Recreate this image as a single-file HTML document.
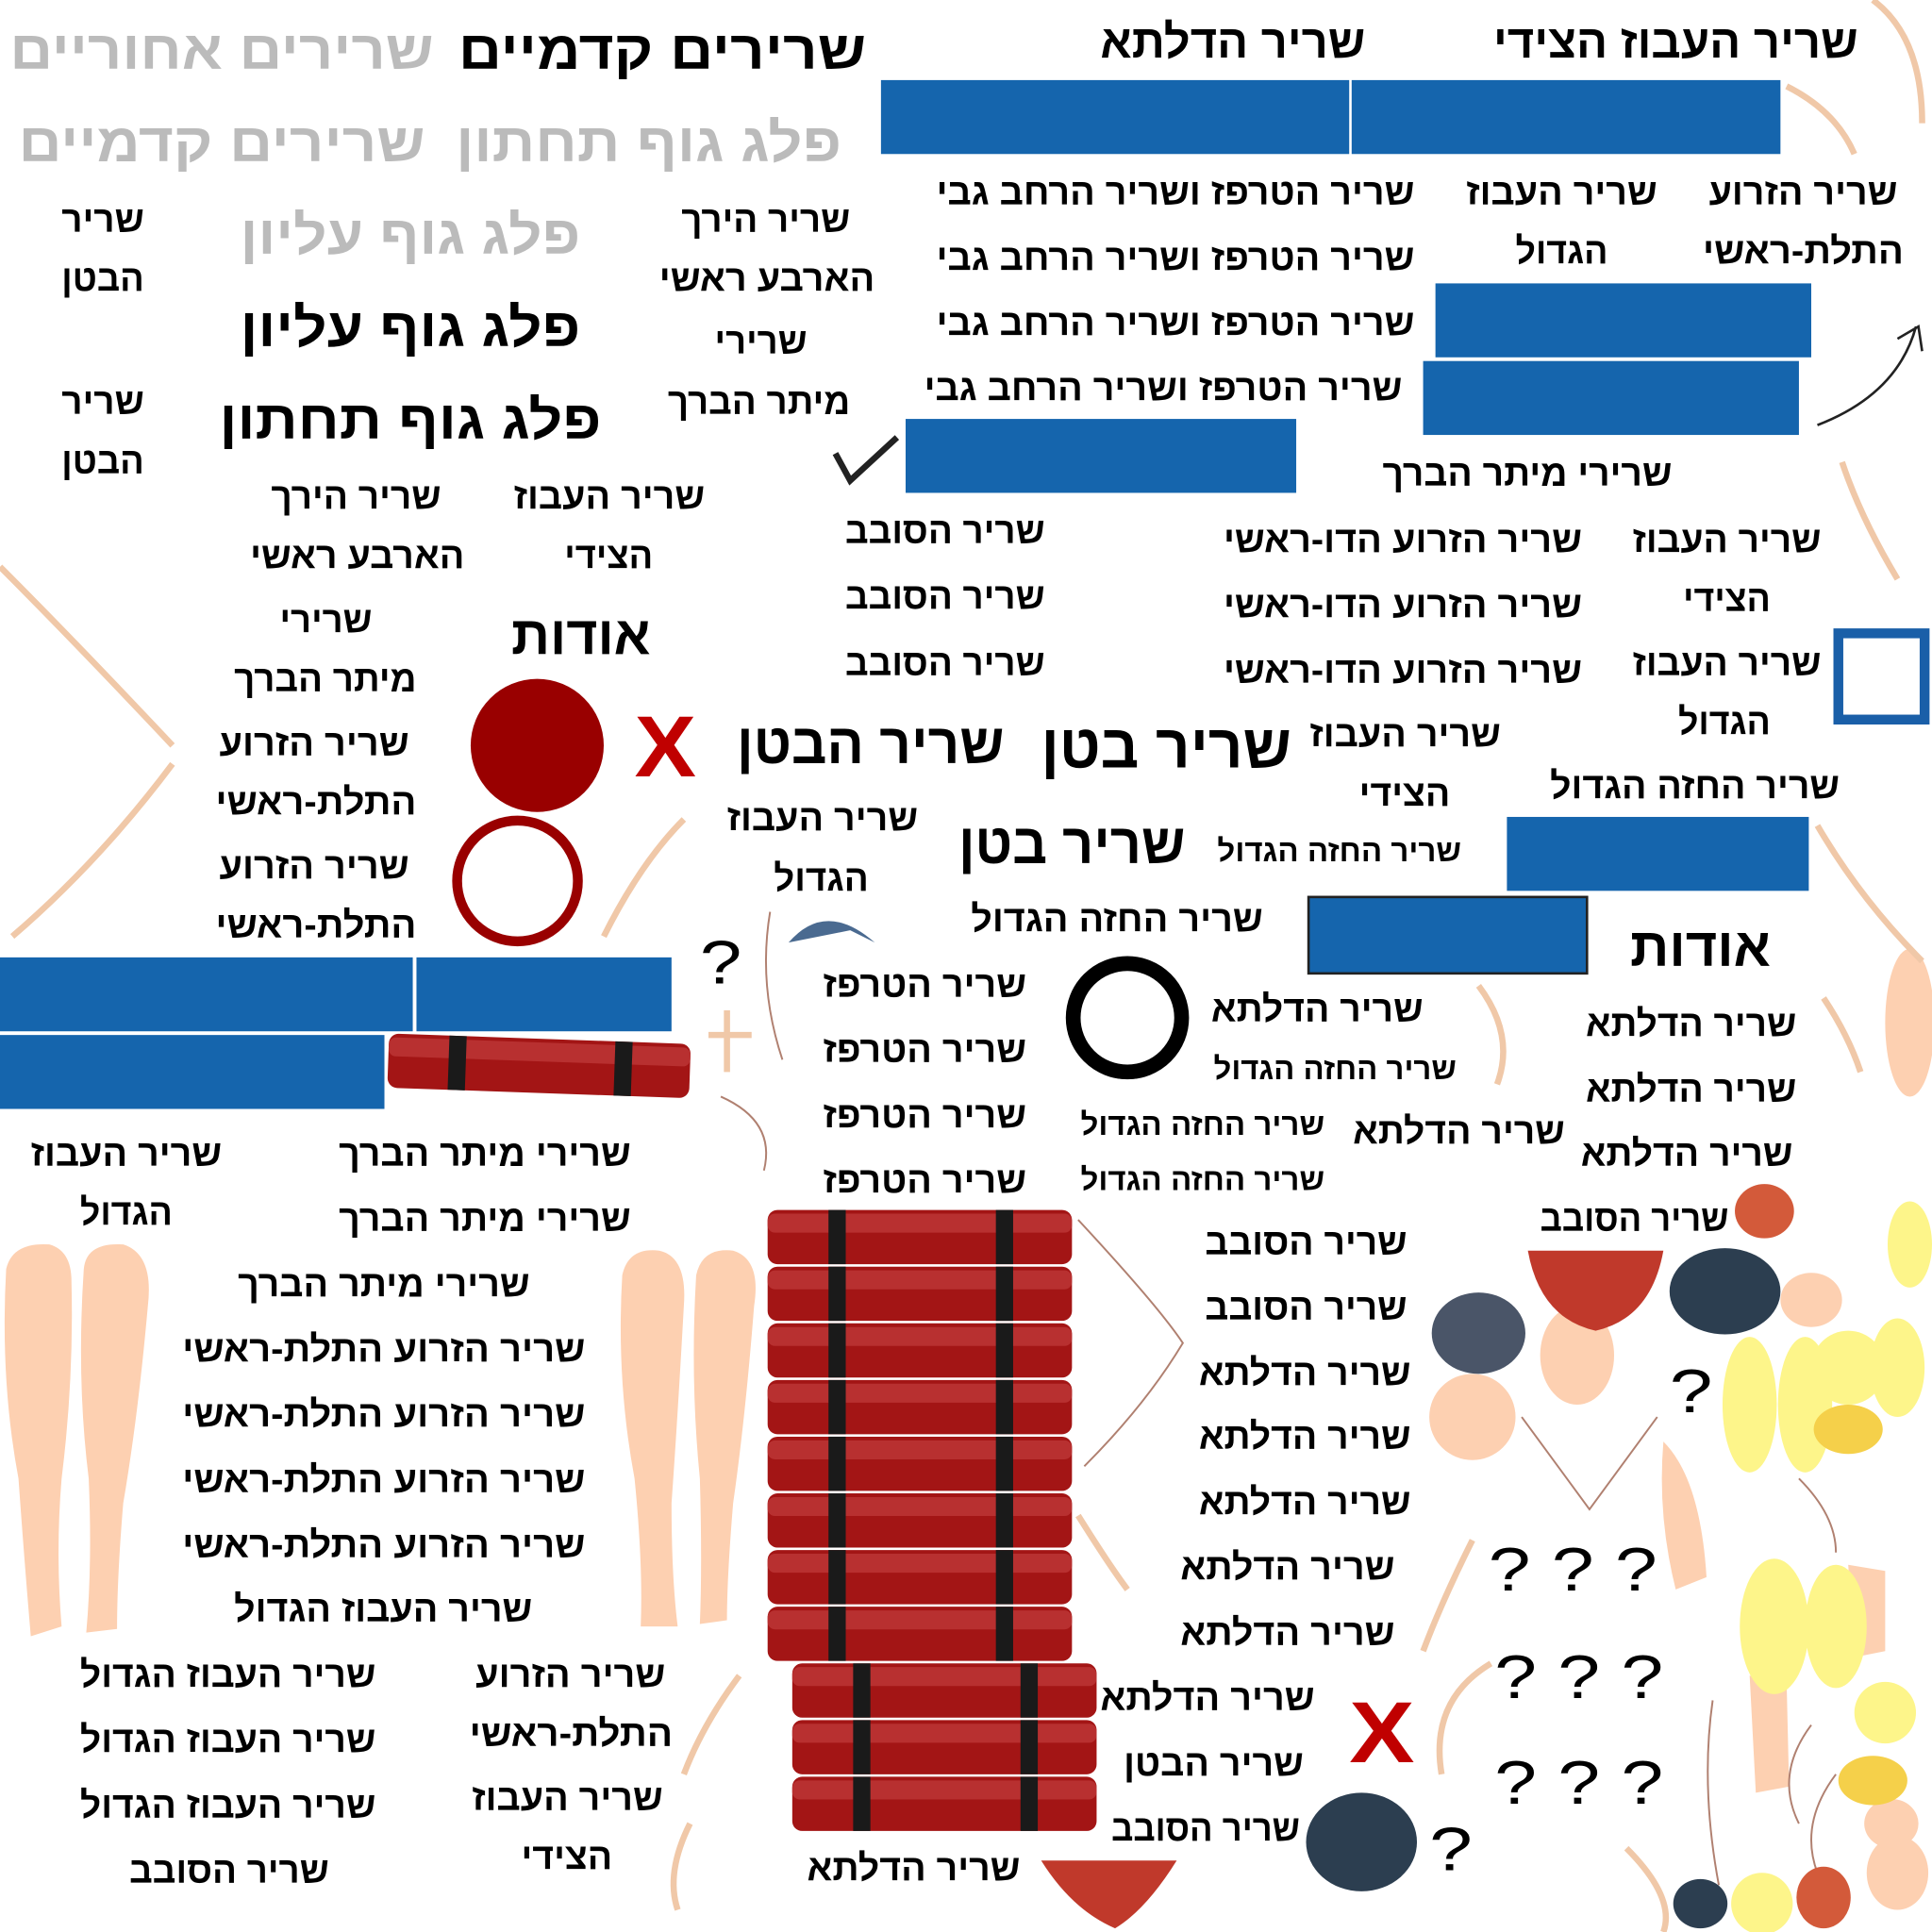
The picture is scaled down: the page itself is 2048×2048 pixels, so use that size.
<!DOCTYPE html>
<html><head><meta charset="utf-8"><style>
html,body{margin:0;padding:0;background:#fff;width:2048px;height:2048px;overflow:hidden}
svg{display:block}
text{font-family:"Liberation Sans","DejaVu Sans",sans-serif;font-weight:bold}
</style></head><body>
<svg id="s" xmlns="http://www.w3.org/2000/svg" width="2048" height="2048" viewBox="0 0 1568 1568">
<g fill="#fdd0b1">
<path d="M5,1030 Q10,1008 40,1010 Q58,1015 58,1040 Q60,1120 50,1200 Q45,1260 50,1320 L25,1328 Q20,1270 15,1200 Q0,1120 5,1030Z"/>
<path d="M68,1030 Q70,1008 100,1010 Q125,1018 120,1060 Q112,1150 100,1220 Q95,1280 95,1322 L70,1325 Q75,1270 72,1200 Q62,1120 68,1030Z"/>
<path d="M505,1035 Q510,1012 535,1015 Q558,1020 555,1060 Q550,1150 545,1220 Q545,1280 550,1320 L520,1320 Q522,1270 515,1200 Q500,1120 505,1035Z"/>
<path d="M565,1035 Q570,1012 595,1015 Q618,1022 612,1060 Q605,1150 595,1220 Q590,1280 590,1315 L568,1318 Q570,1270 568,1200 Q560,1120 565,1035Z"/>
<ellipse cx="1280" cy="1100" rx="30" ry="40"/>
<ellipse cx="1195" cy="1150" rx="35" ry="35"/>
<ellipse cx="1470" cy="1055" rx="25" ry="22"/>
<path d="M1350,1170 Q1380,1200 1385,1280 L1360,1290 Q1345,1230 1350,1170Z"/>
<path d="M1420,1360 L1450,1365 L1452,1450 L1425,1455Z"/>
<path d="M1500,1270 L1530,1275 L1530,1340 L1505,1345Z"/>
<ellipse cx="1550" cy="830" rx="20" ry="60"/>
<ellipse cx="1540" cy="1520" rx="25" ry="30"/>
<ellipse cx="1535" cy="1480" rx="22" ry="20"/>
</g>
<g fill="none" stroke="#f0c8a8" stroke-width="5">
<path d="M0,460 Q60,520 140,605"/><path d="M140,620 Q80,700 10,760"/>
<path d="M555,665 Q520,700 490,760"/><path d="M1495,375 Q1510,420 1540,470"/>
<path d="M1475,670 Q1510,730 1560,780"/><path d="M1480,810 Q1500,840 1510,870"/>
<path d="M1520,0 Q1560,30 1560,100"/><path d="M1450,70 Q1490,90 1505,125"/>
<path d="M1200,800 Q1230,840 1215,880"/><path d="M1195,1250 Q1170,1300 1155,1340"/>
<path d="M1210,1350 Q1160,1380 1170,1440"/><path d="M1320,1500 Q1360,1540 1350,1568"/>
<path d="M600,1360 Q570,1400 555,1440"/><path d="M560,1480 Q540,1520 550,1550"/>
<path d="M875,1230 Q900,1270 915,1290"/><path d="M575,840 L610,840"/><path d="M590,820 L590,870"/>
</g>
<g fill="none" stroke="#b08070" stroke-width="1.5">
<path d="M625,740 Q615,800 635,860"/><path d="M875,990 Q940,1060 960,1090 Q930,1140 880,1190"/>
<path d="M1235,1150 L1290,1225 L1345,1150"/><path d="M1390,1380 Q1380,1450 1395,1530"/>
<path d="M1470,1400 Q1440,1440 1460,1480"/><path d="M1490,1440 Q1460,1480 1475,1520"/>
<path d="M585,890 Q630,910 620,950"/><path d="M1460,1200 Q1490,1230 1490,1260"/>
</g>
<path d="M1475,345 Q1540,320 1555,265 M1540,275 L1557,265 L1560,285" fill="none" stroke="#222" stroke-width="2"/>
<path d="M678,368 L690,390 L728,355" fill="none" stroke="#222" stroke-width="5"/>
<path d="M640,765 Q670,730 710,765 L690,755 Z" fill="#4a6a90"/>
<g>
<ellipse cx="1400" cy="1048" rx="45" ry="35" fill="#2c3e50"/>
<ellipse cx="1200" cy="1082" rx="38" ry="33" fill="#4a5568"/>
<ellipse cx="1105" cy="1495" rx="45" ry="40" fill="#2c3e50"/>
<ellipse cx="1380" cy="1545" rx="22" ry="20" fill="#2c3e50"/>
<path d="M1240,1015 L1350,1015 Q1340,1070 1295,1080 Q1250,1070 1240,1015Z" fill="#c0392b"/>
<path d="M845,1510 L955,1510 Q930,1550 905,1565 Q870,1550 845,1510Z" fill="#c0392b"/>
<ellipse cx="1432" cy="983" rx="24" ry="22" fill="#d35a3a"/>
<ellipse cx="1480" cy="1540" rx="22" ry="25" fill="#d35a3a"/>
</g>
<g fill="#fdf58a">
<ellipse cx="1420" cy="1140" rx="22" ry="55"/><ellipse cx="1465" cy="1140" rx="22" ry="55"/>
<ellipse cx="1500" cy="1110" rx="30" ry="30"/><ellipse cx="1550" cy="1010" rx="18" ry="35"/>
<ellipse cx="1540" cy="1110" rx="22" ry="40"/><ellipse cx="1440" cy="1320" rx="28" ry="55"/>
<ellipse cx="1490" cy="1320" rx="25" ry="50"/><ellipse cx="1530" cy="1390" rx="25" ry="25"/>
<ellipse cx="1520" cy="1445" rx="28" ry="20" fill="#f5d04a"/><ellipse cx="1500" cy="1160" rx="28" ry="20" fill="#f5d04a"/>
<ellipse cx="1430" cy="1545" rx="25" ry="25"/>
</g>
<g id="rects"></g><g id="rolls"></g><g id="texts"></g>
<circle cx="436" cy="605" r="54" fill="#990000"/>
<circle cx="420" cy="715" r="49" fill="none" stroke="#990000" stroke-width="8"/>
<circle cx="915" cy="826" r="44" fill="none" stroke="#000" stroke-width="12"/>
<rect x="1492" y="514" width="70" height="70" fill="none" stroke="#1a5fa8" stroke-width="8"/>
</svg>
<script>
const NS="http://www.w3.org/2000/svg";
const blueRects=[[715,65,380,60],[1097,65,348,60],[1165,230,305,60],[1155,293,305,60],[735,340,317,60],[1223,663,245,60],[1062,728,226,62],[0,777,335,60],[338,777,207,60],[0,840,312,60]];
const R=document.getElementById('rects');
blueRects.forEach(b=>{const r=document.createElementNS(NS,'rect');
r.setAttribute('x',b[0]);r.setAttribute('y',b[1]);r.setAttribute('width',b[2]);r.setAttribute('height',b[3]);
r.setAttribute('fill','#1565ad');if(b[1]===728){r.setAttribute('stroke','#222');r.setAttribute('stroke-width','2');}


R.appendChild(r);});
const rolls=[[623,982,247],[623,1028,247],[623,1074,247],[623,1120,247],[623,1166,247],[623,1212,247],[623,1258,247],[623,1304,247],[643,1350,247],[643,1396,247],[643,1442,247]];
const RL=document.getElementById('rolls');
function roll(x,y,w,h,rot){const g=document.createElementNS(NS,'g');


if(rot)g.setAttribute('transform',rot);
g.innerHTML=`<rect x="${x}" y="${y}" width="${w}" height="${h}" rx="8" fill="#a31515"/><rect x="${x}" y="${y+3}" width="${w}" height="${h*0.35}" rx="6" fill="#b83030"/><rect x="${x+w*0.2}" y="${y}" width="14" height="${h}" fill="#1a1a1a"/><rect x="${x+w*0.75}" y="${y}" width="14" height="${h}" fill="#1a1a1a"/>`;
RL.appendChild(g);}
rolls.forEach(r=>roll(r[0],r[1],r[2],44));
roll(315,843,245,44,'rotate(2 437 865)');
const texts=[
[8,352,40,44,"שרירים אחוריים","#bbb"],[372,703,40,44,"שרירים קדמיים","#000"],
[893,1108,33,38,"שריר הדלתא","#000"],[1212,1508,33,38,"שריר העבוז הצידי","#000"],
[370,683,115,44,"פלג גוף תחתון","#bbb"],[15,345,115,44,"שרירים קדמיים","#bbb"],
[50,117,177,30,"שריר"],[50,117,225,30,"הבטן"],[195,471,190,44,"פלג גוף עליון","#bbb"],
[553,690,177,30,"שריר הירך"],[535,710,225,30,"הארבע ראשי"],[580,655,276,30,"שרירי"],[542,690,325,30,"מיתר הברך"],
[195,471,265,44,"פלג גוף עליון"],[50,117,325,30,"שריר"],[50,117,373,30,"הבטן"],[178,488,340,44,"פלג גוף תחתון"],
[760,1148,155,30,"שריר הטרפז ושריר הרחב גבי"],[760,1148,208,30,"שריר הטרפז ושריר הרחב גבי"],[760,1148,261,30,"שריר הטרפז ושריר הרחב גבי"],[750,1138,314,30,"שריר הטרפז ושריר הרחב גבי"],
[1190,1345,155,30,"שריר העבוז"],[1230,1305,203,30,"הגדול"],[1387,1540,155,30,"שריר הזרוע"],[1382,1545,203,30,"התלת-ראשי"],
[1122,1357,383,30,"שרירי מיתר הברך"],[417,572,402,30,"שריר העבוז"],[458,530,450,30,"הצידי"],
[220,358,402,30,"שריר הירך"],[203,377,450,30,"הארבע ראשי"],[227,302,502,30,"שרירי"],[190,338,550,30,"מיתר הברך"],
[178,332,602,30,"שריר הזרוע"],[175,338,650,30,"התלת-ראשי"],[178,332,702,30,"שריר הזרוע"],[175,338,750,30,"התלת-ראשי"],
[415,528,515,44,"אודות"],[515,565,605,70,"X","#c00000"],
[686,848,430,30,"שריר הסובב"],[686,848,483,30,"שריר הסובב"],[686,848,537,30,"שריר הסובב"],
[993,1284,437,30,"שריר הזרוע הדו-ראשי"],[993,1284,490,30,"שריר הזרוע הדו-ראשי"],[993,1284,543,30,"שריר הזרוע הדו-ראשי"],
[1325,1478,437,30,"שריר העבוז"],[1366,1437,485,30,"הצידי"],[1325,1478,537,30,"שריר העבוז"],[1362,1437,585,30,"הגדול"],
[598,815,603,46,"שריר הבטן"],[845,1048,605,50,"שריר בטן"],[1063,1218,595,30,"שריר העבוז"],[1103,1177,643,30,"הצידי"],
[1258,1493,637,30,"שריר החזה הגדול"],[590,745,663,30,"שריר העבוז"],[628,705,712,30,"הגדול"],
[778,962,684,46,"שריר בטן"],[988,1186,690,25,"שריר החזה הגדול"],[788,1025,745,30,"שריר החזה הגדול"],
[1323,1437,768,44,"אודות"],[568,602,780,50,"?"],
[668,833,798,30,"שריר הטרפז"],[668,833,851,30,"שריר הטרפז"],[668,833,904,30,"שריר הטרפז"],[668,833,957,30,"שריר הטרפז"],
[983,1155,818,30,"שריר הדלתא"],[985,1182,867,25,"שריר החזה הגדול"],
[1287,1458,830,30,"שריר הדלתא"],[1287,1458,883,30,"שריר הדלתא"],[1283,1455,935,30,"שריר הדלתא"],[1098,1270,917,30,"שריר הדלתא"],
[877,1075,912,25,"שריר החזה הגדול"],[877,1075,957,25,"שריר החזה הגדול"],
[25,180,935,30,"שריר העבוז"],[65,140,983,30,"הגדול"],
[275,512,935,30,"שרירי מיתר הברך"],[275,512,988,30,"שרירי מיתר הברך"],[193,430,1041,30,"שרירי מיתר הברך"],
[148,475,1094,30,"שריר הזרוע התלת-ראשי"],[148,475,1147,30,"שריר הזרוע התלת-ראשי"],[148,475,1200,30,"שריר הזרוע התלת-ראשי"],[148,475,1253,30,"שריר הזרוע התלת-ראשי"],
[190,432,1305,30,"שריר העבוז הגדול"],[65,305,1358,30,"שריר העבוז הגדול"],[65,305,1411,30,"שריר העבוז הגדול"],[65,305,1464,30,"שריר העבוז הגדול"],
[105,267,1517,30,"שריר הסובב"],[386,540,1358,30,"שריר הזרוע"],[381,546,1406,30,"התלת-ראשי"],[383,538,1458,30,"שריר העבוז"],[423,497,1506,30,"הצידי"],
[978,1142,1007,30,"שריר הסובב"],[978,1142,1060,30,"שריר הסובב"],[973,1145,1113,30,"שריר הדלתא"],[973,1145,1165,30,"שריר הדלתא"],[973,1145,1218,30,"שריר הדלתא"],
[958,1132,1271,30,"שריר הדלתא"],[958,1132,1324,30,"שריר הדלתא"],[893,1067,1377,30,"שריר הדלתא"],[912,1058,1430,30,"שריר הבטן"],[902,1055,1483,30,"שריר הסובב"],[655,828,1515,30,"שריר הדלתא"],
[1095,1148,1405,70,"X","#c00000"],[1250,1403,988,30,"שריר הסובב"],
[1355,1390,1128,50,"?"],[1208,1345,1273,50,"? ? ?"],[1213,1350,1360,50,"? ? ?"],[1213,1350,1446,50,"? ? ?"],[1160,1195,1500,50,"?"]
];
const T=document.getElementById('texts');
texts.forEach(d=>{const t=document.createElementNS(NS,'text');
t.setAttribute('x',(d[0]+d[1])/2);t.setAttribute('y',d[2]+d[3]*0.36);
t.setAttribute('font-size',d[3]);t.setAttribute('text-anchor','middle');
t.setAttribute('textLength',d[1]-d[0]);t.setAttribute('lengthAdjust','spacingAndGlyphs');
t.setAttribute('fill',d[5]||'#000');
if(d[4].startsWith('?'))t.style.fontWeight='normal';
t.textContent=d[4];


T.appendChild(t);});
</script>
</body></html>
